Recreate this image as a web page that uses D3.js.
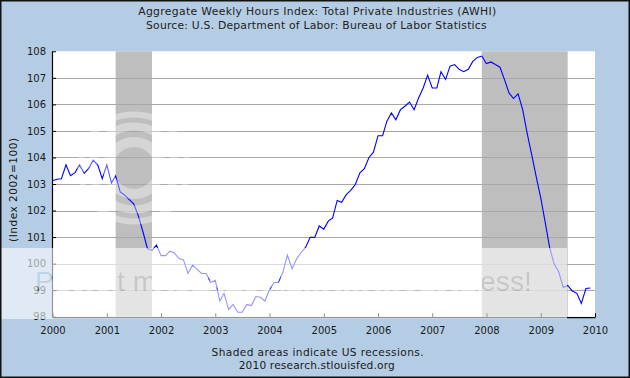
<!DOCTYPE html>
<html>
<head>
<meta charset="utf-8">
<script src="https://cdn.jsdelivr.net/npm/d3@7"></script>
<style>
  html, body { margin: 0; padding: 0; background: #fff; }
  svg { display: block; }
  text { font-family: "DejaVu Sans", Verdana, sans-serif; }
</style>
</head>
<body>
<svg id="chart" width="630" height="378"></svg>
<script>
// ---- Data (monthly, Jan 2000 .. Dec 2009) ----
const startYear = 2000;
const values = [
  103.12, 103.18, 103.20, 103.72, 103.31, 103.43, 103.72, 103.40, 103.59, 103.90, 103.71, 103.20,
  103.72, 103.04, 103.31, 102.70, 102.58, 102.41, 102.25, 101.80, 101.20, 100.57, 100.50, 100.70,
  100.30, 100.30, 100.47, 100.40, 100.19, 100.14, 99.63, 99.94, 99.78, 99.63, 99.63, 99.29,
  99.37, 98.59, 98.88, 98.27, 98.46, 98.17, 98.17, 98.46, 98.42, 98.76, 98.73, 98.59,
  99.01, 99.29, 99.29, 99.68, 100.32, 99.81, 100.17, 100.42, 100.62, 100.99, 100.99, 101.42,
  101.30, 101.61, 101.71, 102.38, 102.31, 102.60, 102.76, 102.98, 103.42, 103.58, 104.00, 104.20,
  104.82, 104.82, 105.36, 105.68, 105.42, 105.80, 105.93, 106.09, 105.80, 106.24, 106.62, 107.10,
  106.62, 106.62, 107.23, 106.94, 107.44, 107.50, 107.32, 107.23, 107.32, 107.62, 107.77, 107.82,
  107.54, 107.60, 107.50, 107.40, 106.94, 106.43, 106.22, 106.40, 105.80, 104.92, 104.10, 103.28,
  102.47, 101.52, 100.62, 99.98, 99.70, 99.10, 99.18, 98.97, 98.88, 98.50, 99.06, 99.08
];
const recessions = [["2001-03-01", "2001-11-01"], ["2007-12-01", "2009-07-01"]];
const xTickYears = [2000, 2001, 2002, 2003, 2004, 2005, 2006, 2007, 2008, 2009, 2010];
const yTicks = [98, 99, 100, 101, 102, 103, 104, 105, 106, 107, 108];
const titleLines = [
  "Aggregate Weekly Hours Index: Total Private Industries (AWHI)",
  "Source: U.S. Department of Labor: Bureau of Labor Statistics"
];
const yAxisTitle = "(Index 2002=100)";
const footerLines = [
  "Shaded areas indicate US recessions.",
  "2010 research.stlouisfed.org"
];
const watermarkText = "Protect more of your memories for less!";

// ---- Layout ----
const W = 630, H = 378;
const plot = { left: 52.5, right: 595, top: 51.3, bottom: 316.7 };

const svg = d3.select("#chart");
const parse = d3.timeParse("%Y-%m-%d");
const series = values.map((v, i) => ({ date: new Date(startYear, i, 1), value: v }));

const x = d3.scaleTime()
  .domain([new Date(2000, 0, 1), new Date(2010, 0, 1)])
  .range([plot.left, plot.right]);
const y = d3.scaleLinear().domain([98, 108]).range([plot.bottom, plot.top]);

// background
svg.append("rect").attr("width", W).attr("height", H).attr("fill", "#b4cde4");

// plot area
svg.append("rect")
  .attr("x", plot.left).attr("y", plot.top)
  .attr("width", plot.right - plot.left).attr("height", plot.bottom - plot.top)
  .attr("fill", "#ffffff");

// recessions
svg.append("g").selectAll("rect").data(recessions).join("rect")
  .attr("x", d => x(parse(d[0])))
  .attr("y", plot.top)
  .attr("width", d => x(parse(d[1])) - x(parse(d[0])))
  .attr("height", plot.bottom - plot.top)
  .attr("fill", "#bebebe");

// gridlines
svg.append("g").selectAll("line").data(yTicks.filter(t => t > 98 && t < 108)).join("line")
  .attr("x1", plot.left).attr("x2", plot.right)
  .attr("y1", d => Math.round(y(d)) + 0.5).attr("y2", d => Math.round(y(d)) + 0.5)
  .attr("stroke", "#a8a8a8").attr("stroke-width", 1);

// line
const line = d3.line().x(d => x(d.date)).y(d => y(d.value));
svg.append("path").datum(series)
  .attr("d", line)
  .attr("fill", "none")
  .attr("stroke", "#0000ff")
  .attr("stroke-width", 1.1)
  .attr("stroke-linejoin", "miter");

// axes
const yAxis = d3.axisLeft(y).tickValues(yTicks).tickSizeInner(-4).tickSizeOuter(0).tickPadding(6)
  .tickFormat(d3.format("d"));
const gy = svg.append("g").attr("transform", `translate(${plot.left - 0.5},0)`).call(yAxis);
const xAxis = d3.axisBottom(x)
  .tickValues(xTickYears.map(yr => new Date(yr, 0, 1)))
  .tickSizeInner(-4).tickSizeOuter(0).tickPadding(10)
  .tickFormat(d3.timeFormat("%Y"));
const gx = svg.append("g").attr("transform", `translate(0,${plot.bottom + 0.5})`).call(xAxis);
[gx, gy].forEach(g => {
  g.select(".domain").attr("stroke", "#000").attr("stroke-width", 1.2);
  g.selectAll(".tick line").attr("stroke", "#000");
  g.selectAll(".tick text").attr("fill", "#1a1a1a")
    .style("font-family", '"DejaVu Sans", Verdana, sans-serif').style("font-size", "10px");
});

// y axis title
svg.append("text")
  .attr("transform", `translate(16.5,190) rotate(-90)`)
  .attr("text-anchor", "middle")
  .attr("textLength", 104).attr("lengthAdjust", "spacing")
  .attr("fill", "#1a1a1a")
  .style("font-size", "10.5px")
  .text(yAxisTitle);

// titles
const titleGeom = [{ cx: 317.2, len: 358, y: 15 }, { cx: 316.3, len: 340.5, y: 28.5 }];
svg.append("g").selectAll("text").data(titleLines).join("text")
  .attr("x", (d, i) => titleGeom[i].cx).attr("y", (d, i) => titleGeom[i].y)
  .attr("text-anchor", "middle").attr("fill", "#222")
  .attr("textLength", (d, i) => titleGeom[i].len).attr("lengthAdjust", "spacing")
  .style("font-size", "10.8px")
  .text(d => d);

// footer
const footGeom = [{ cx: 317.6, len: 212, y: 355.5 }, { cx: 316.7, len: 156, y: 368.5 }];
svg.append("g").selectAll("text").data(footerLines).join("text")
  .attr("x", (d, i) => footGeom[i].cx).attr("y", (d, i) => footGeom[i].y)
  .attr("text-anchor", "middle").attr("fill", "#1a1a1a")
  .attr("textLength", (d, i) => footGeom[i].len).attr("lengthAdjust", "spacing")
  .style("font-size", "10.6px")
  .text(d => d);

// ---- watermark overlay (as seen in the reference image) ----
const defs = svg.append("defs");
const mask = defs.append("mask").attr("id", "wmMask")
  .attr("maskUnits", "userSpaceOnUse").attr("x", 0).attr("y", 0).attr("width", W).attr("height", H);
mask.append("rect").attr("x", 0).attr("y", 248).attr("width", 567).attr("height", 71).attr("fill", "#fff");
mask.append("text")
  .attr("x", 35).attr("y", 291)
  .attr("textLength", 497).attr("lengthAdjust", "spacingAndGlyphs")
  .attr("fill", "#000").attr("fill-opacity", 0.74)
  .style("font-family", '"Liberation Sans", Arial, sans-serif')
  .style("font-size", "28px")
  .text(watermarkText);
svg.append("rect").attr("width", W).attr("height", H)
  .attr("fill", "#fff").attr("fill-opacity", 0.58).attr("mask", "url(#wmMask)");

// logo rings
const logo = svg.append("g").attr("fill", "none").attr("stroke", "#fff").attr("stroke-opacity", 0.36);
[[26, 10], [41.5, 8], [53.5, 6]].forEach(([r, sw]) => {
  logo.append("circle").attr("cx", 134).attr("cy", 168).attr("r", r).attr("stroke-width", sw);
});

// outer frame
svg.append("rect").attr("x", 0.75).attr("y", 0.75).attr("width", W - 1.5).attr("height", H - 1.5)
  .attr("fill", "none").attr("stroke", "#111").attr("stroke-width", 1.5);
</script>
</body>
</html>
